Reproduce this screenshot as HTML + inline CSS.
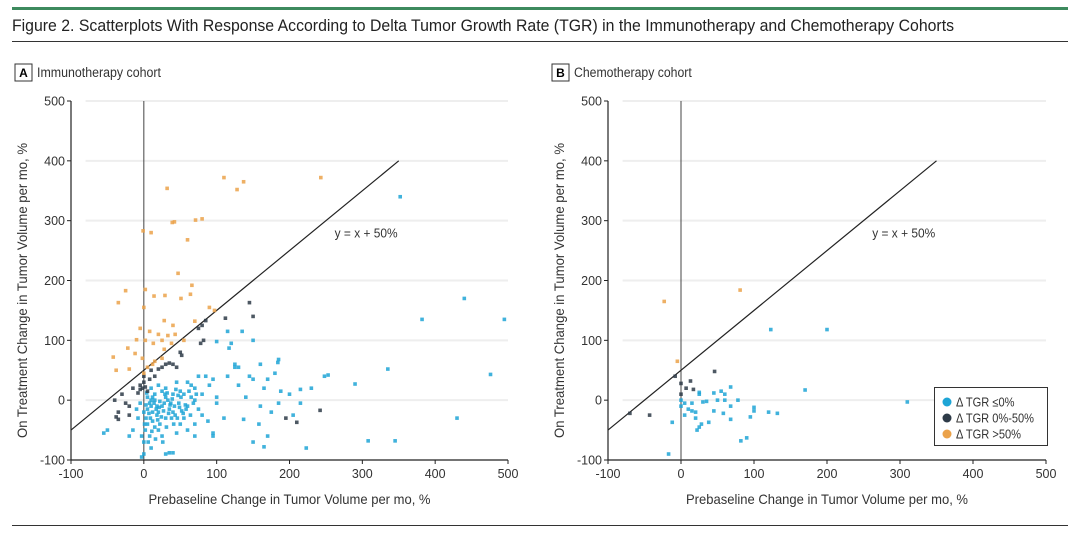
<!DOCTYPE html>
<html><head><meta charset="utf-8">
<style>
html,body{margin:0;padding:0;background:#fff;}
body{width:1080px;height:537px;position:relative;overflow:hidden;font-family:"Liberation Sans",sans-serif;color:#222;}
</style></head>
<body>
<svg id="chart" width="1080" height="537" viewBox="0 0 1080 537" xmlns="http://www.w3.org/2000/svg" font-family="Liberation Sans, sans-serif">
<rect x="12" y="7" width="1056" height="3" fill="#3d8a5e"/>
<text x="12" y="31" font-size="16.5" fill="#222" textLength="942" lengthAdjust="spacingAndGlyphs">Figure 2. Scatterplots With Response According to Delta Tumor Growth Rate (TGR) in the Immunotherapy and Chemotherapy Cohorts</text>
<line x1="12" y1="41.5" x2="1068" y2="41.5" stroke="#333" stroke-width="1"/>
<line x1="12" y1="525.5" x2="1068" y2="525.5" stroke="#333" stroke-width="1"/>
<g id="pa"></g><g id="pb"></g>
</svg>
<script>
const NS="http://www.w3.org/2000/svg";
const xTicks=[-100,0,100,200,300,400,500];
const yTicks=[-100,0,100,200,300,400,500];
const aOrange=[[110,372],[137,365],[128,352],[32,354],[243,372],[-1,283],[10,280],[39,297],[42,298],[71,301],[80,303],[60,268],[47,212],[66,192],[-25,183],[2,185],[14,174],[29,175],[51,170],[64,177],[-35,163],[90,155],[97,150],[0,155],[28,133],[40,125],[70,132],[-5,120],[8,115],[20,110],[33,108],[43,110],[-10,101],[2,100],[13,95],[25,100],[38,95],[55,100],[-22,87],[-42,72],[-12,78],[-2,70],[28,85],[-38,50],[-20,52],[0,45],[5,55],[12,60],[15,65],[25,70]];
const aDark=[[145,163],[150,140],[112,137],[85,133],[80,125],[75,120],[82,100],[78,95],[50,80],[52,75],[40,60],[35,62],[30,60],[20,52],[25,55],[45,55],[10,50],[15,40],[0,30],[-5,25],[2,22],[-5,18],[5,15],[-15,20],[-30,10],[-40,0],[-25,-5],[-20,-10],[-35,-20],[-20,-25],[-38,-28],[-35,-32],[0,40],[8,35],[-2,20],[-8,12],[242,-17],[195,-30],[210,-37]];
const aBlue=[[352,340],[440,170],[382,135],[495,135],[335,52],[476,43],[290,27],[248,40],[253,42],[430,-30],[308,-68],[345,-68],[223,-80],[165,-78],[170,-60],[150,-70],[137,-32],[158,-40],[230,20],[215,18],[200,10],[185,-5],[188,15],[180,45],[184,63],[185,68],[160,60],[150,35],[165,20],[170,35],[120,95],[117,87],[100,98],[115,115],[135,115],[150,100],[125,60],[130,55],[125,55],[115,40],[95,35],[90,25],[100,-5],[110,-30],[75,-15],[80,-25],[88,-35],[95,-55],[95,-60],[70,-60],[60,-50],[50,-40],[40,-20],[30,-30],[20,-20],[10,-10],[15,0],[5,-40],[0,-70],[0,-90],[-3,-95],[30,-90],[35,-88],[40,-88],[25,-60],[20,-50],[45,-55],[55,-30],[60,-10],[65,5],[70,20],[60,30],[50,15],[40,10],[30,5],[25,15],[20,25],[10,20],[5,5],[-5,-5],[0,-20],[3,-30],[12,-35],[18,-10],[28,-5],[35,-15],[48,-5],[55,10],[70,0],[80,10],[85,40],[75,40],[65,25],[45,30],[30,20],[15,10],[8,-5],[12,-20],[22,-40],[-55,-55],[-50,-50],[-15,-50],[-20,-60],[70,-40],[100,5],[140,5],[130,25],[145,40],[160,-10],[175,-20],[205,-25],[215,-5],[5,-15],[10,0],[18,-25],[25,-10],[33,0],[38,-30],[42,-10],[2,-50],[8,-60],[15,-45],[3,-8],[7,-22],[12,5],[17,-15],[22,-2],[27,-18],[32,12],[37,-5],[43,-25],[47,8],[52,-18],[57,-8],[62,15],[4,12],[9,-30],[14,-5],[19,-33],[24,-28],[29,10],[34,-22],[39,2],[44,18],[49,-12],[54,-22],[6,-70],[10,-80],[16,-65],[26,-70],[1,-40],[11,-52],[21,-12],[31,-45],[36,-8],[41,-40],[46,-30],[51,5],[58,-15],[64,-25],[68,-5],[72,10],[-8,-30],[-10,-15],[-3,-60]];
const bOrange=[[-23,165],[81,184],[-5,65]];
const bDark=[[46,48],[-8,40],[13,32],[0,28],[7,20],[17,18],[0,10],[-43,-25],[-70,-22]];
const bBlue=[[123,118],[200,118],[170,17],[310,-3],[0,0],[5,-5],[0,-10],[-12,-37],[-17,-90],[68,22],[45,12],[55,15],[60,10],[60,0],[50,0],[30,-3],[25,13],[25,10],[20,-20],[15,-18],[10,-15],[20,-30],[25,-45],[28,-40],[22,-50],[38,-37],[45,-18],[58,-22],[68,-10],[68,-32],[78,0],[95,-28],[100,-12],[100,-18],[120,-20],[132,-22],[82,-68],[90,-63],[5,-25],[35,-2],[15,-5]];
const colors={blue:"#1ea5d6",dark:"#2e3b48",orange:"#eba24a"};
function mk(p,tag,a){const e=document.createElementNS(NS,tag);for(const k in a)e.setAttribute(k,a[k]);p.appendChild(e);return e;}
function panel(g,x0,x1,letter,name,orange,dark,blue,legend){
 const y0=460,y1=101;
 const sx=v=>x0+(v+100)/600*(x1-x0);
 const sy=v=>y0-(v+100)/600*(y0-y1);
 const lab=mk(g,"rect",{x:sx(-100)-56,y:64,width:17,height:17,fill:"none",stroke:"#333"});
 
 
 const lt=mk(g,"text",{x:sx(-100)-47.5,y:77,"font-size":12,"text-anchor":"middle","font-weight":"bold"});lt.textContent=letter;
 
 
 const tt=mk(g,"text",{x:sx(-100)-34,y:77,"font-size":13.5,fill:"#333",textLength:name.length*6.2,lengthAdjust:"spacingAndGlyphs"});tt.textContent=name;
 
 
 yTicks.forEach(t=>{
  if(t>-100){const gl=mk(g,"line",{x1:sx(-80),x2:sx(500),y1:sy(t),y2:sy(t),stroke:"#eeeeee","stroke-width":2});
  
  }
  const tk=mk(g,"line",{x1:sx(-100)-4,x2:sx(-100),y1:sy(t),y2:sy(t),stroke:"#222"});
  
  
  const tl=mk(g,"text",{x:sx(-100)-6,y:sy(t)+4.5,"font-size":12.5,"text-anchor":"end",fill:"#333"});tl.textContent=t;
  
  
 });
 xTicks.forEach(t=>{
  const tk=mk(g,"line",{x1:sx(t),x2:sx(t),y1:y0,y2:y0+4,stroke:"#222"});
  
  
  const tl=mk(g,"text",{x:sx(t),y:y0+18,"font-size":12.5,"text-anchor":"middle",fill:"#333"});tl.textContent=t;
  
  
 });
 const ax=mk(g,"path",{d:`M${sx(-100)},${y1} V${y0} H${sx(500)}`,fill:"none",stroke:"#222","stroke-width":1.2});
 
 
 const zl=mk(g,"line",{x1:sx(0),x2:sx(0),y1:y1,y2:y0,stroke:"#444","stroke-width":1});
 
 
 const rl=mk(g,"line",{x1:sx(-100),y1:sy(-50),x2:sx(350),y2:sy(400),stroke:"#222","stroke-width":1.2});
 
 
 const rt=mk(g,"text",{x:sx(262),y:sy(272),"font-size":12.5,fill:"#333",textLength:63,lengthAdjust:"spacingAndGlyphs"});rt.textContent="y = x + 50%";
 
 
 const xt=mk(g,"text",{x:(sx(-100)+sx(500))/2,y:y0+44,"font-size":14,"text-anchor":"middle",fill:"#333",textLength:282,lengthAdjust:"spacingAndGlyphs"});xt.textContent="Prebaseline Change in Tumor Volume per mo, %";
 
 
 const yx=sx(-100)-44,yy=(y0+y1)/2+10;
 const yt=mk(g,"text",{x:yx,y:yy,"font-size":14,"text-anchor":"middle",fill:"#333",textLength:295,lengthAdjust:"spacingAndGlyphs",transform:`rotate(-90 ${yx} ${yy})`});yt.textContent="On Treatment Change in Tumor Volume per mo, %";
 
 
 [[blue,colors.blue,"point-tgr-le0"],[dark,colors.dark,"point-tgr-0-50"],[orange,colors.orange,"point-tgr-gt50"]].forEach(([arr,c,n])=>{
  arr.forEach(p=>{
   const r=mk(g,"rect",{x:sx(p[0])-1.8,y:sy(p[1])-1.8,width:3.6,height:3.6,fill:c,opacity:0.85});
   
   
  });
 });
 if(legend){
  const lb=mk(g,"rect",{x:934.5,y:387.5,width:113,height:58,fill:"#fff",stroke:"#333"});
  
  
  [["Δ TGR ≤0%",colors.blue],["Δ TGR 0%-50%",colors.dark],["Δ TGR >50%",colors.orange]].forEach((e,i)=>{
   const cy=402+i*16;
   const c=mk(g,"circle",{cx:947,cy:cy,r:4.5,fill:e[1]});
   
   
   const t=mk(g,"text",{x:956,y:cy+4.5,"font-size":12.5,fill:"#333",textLength:e[0].length*6.5,lengthAdjust:"spacingAndGlyphs"});t.textContent=e[0];
   
   
  });
 }
}
panel(document.getElementById("pa"),71,508,"A","Immunotherapy cohort",aOrange,aDark,aBlue,false);
panel(document.getElementById("pb"),608,1046,"B","Chemotherapy cohort",bOrange,bDark,bBlue,true);
</script>
</body></html>
